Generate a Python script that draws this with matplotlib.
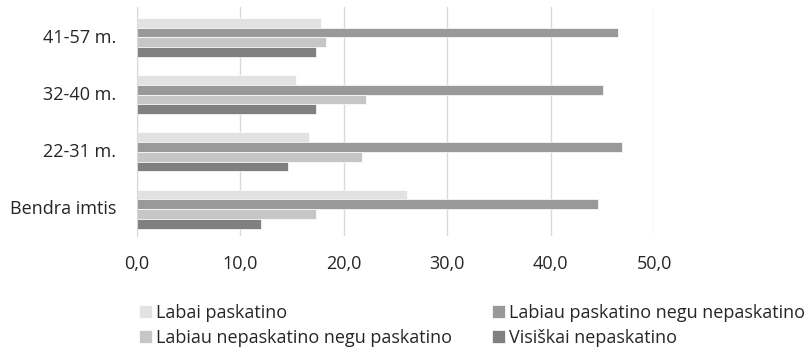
import numpy as np
import matplotlib.pyplot as plt

# duomenys (nuskaityta nuo paveikslo)
grupes = ['Bendra imtis', '22-31 m.', '32-40 m.', '41-57 m.']
serijos = ['Labai paskatino', 'Labiau paskatino negu nepaskatino',
           'Labiau nepaskatino negu paskatino', 'Visiškai nepaskatino']
labai_pask = [26.1, 16.6, 15.4, 17.8]
labiau_pask = [44.6, 46.9, 45.1, 46.5]
labiau_nepask = [17.3, 21.8, 22.1, 18.3]
visiskai_nepask = [12.0, 14.6, 17.3, 17.3]
x_ticks = [0, 10, 20, 30, 40, 50]

spalvos = ['#e2e2e2', '#999999', '#c6c6c6', '#808080']
teksto_sp = '#262626'

plt.rcParams['font.family'] = ['Open Sans', 'DejaVu Sans']

W, H = 812, 347
fig = plt.figure(figsize=(W / 100, H / 100), dpi=100)
ax = fig.add_axes([137 / W, 1 - 236 / H, 517 / W, 229 / H])

y = np.arange(len(grupes))
h = 0.171
reiksmes = [labai_pask, labiau_pask, labiau_nepask, visiskai_nepask]
for i, (vals, lab, c) in enumerate(zip(reiksmes, serijos, spalvos)):
    offs = (1.5 - i) * h - 0.03
    ax.barh(y + offs, vals, height=h, color=c, label=lab,
            edgecolor='white', linewidth=0.5)

ax.set_xlim(0, 50)
ax.set_ylim(-0.5, 3.5)
ax.set_xticks(x_ticks)
ax.set_xticklabels([f'{v:.1f}'.replace('.', ',') for v in x_ticks])
ax.set_yticks(y)
ax.set_yticklabels(grupes)
ax.tick_params(length=0, labelsize=13, colors=teksto_sp)
ax.tick_params(axis='x', pad=14)
ax.tick_params(axis='y', pad=15)
ax.grid(axis='x', color='#d9d9d9', linewidth=1)
ax.set_axisbelow(True)
for s in ['top', 'right', 'bottom']:
    ax.spines[s].set_visible(False)
ax.spines['left'].set_color('#d9d9d9')

# legenda: pirma eilė Labai / Labiau pask., antra eilė Labiau nepask. / Visiškai
handles, labels = ax.get_legend_handles_labels()
tvarka = [0, 2, 1, 3]
fig.legend([handles[k] for k in tvarka], [labels[k] for k in tvarka],
           ncol=2, loc='upper left', bbox_to_anchor=(139 / W, 1 - 304 / H),
           frameon=False, fontsize=13, handlelength=0.7, handleheight=0.7,
           handletextpad=0.25, columnspacing=2.2, labelspacing=0.38,
           borderpad=0, borderaxespad=0, labelcolor=teksto_sp)

fig.savefig('out.png', dpi=100)
